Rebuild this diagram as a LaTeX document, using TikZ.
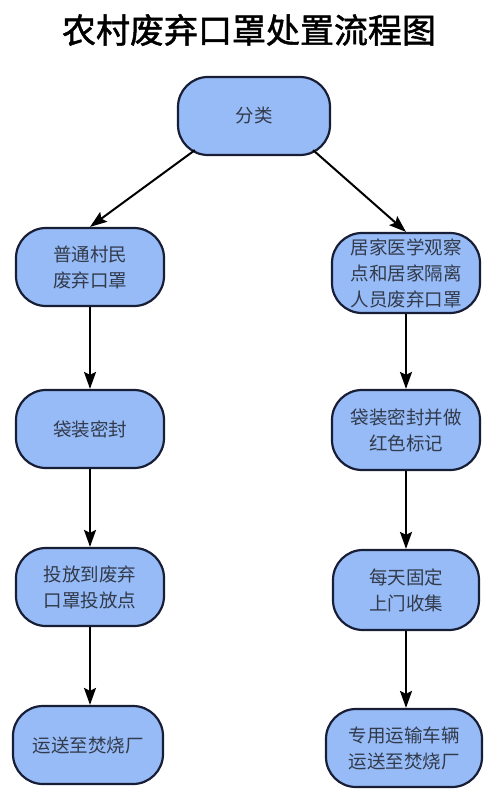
\documentclass[tikz,border=0pt]{standalone}
\usepackage{fontspec}
\newfontfamily\cjk{Noto Sans CJK SC}
\newfontfamily\cjktitle[FakeBold=1.5]{Noto Sans CJK SC}
\usetikzlibrary{arrows.meta}
\definecolor{boxfill}{RGB}{150,187,246}
\definecolor{boxline}{RGB}{25,30,55}
\definecolor{boxtext}{RGB}{50,58,75}
\tikzset{
  box/.style={draw=boxline,line width=2.2pt,fill=boxfill,rounded corners=30pt,
    minimum width=148pt,minimum height=78pt,align=center,text=boxtext,
    font=\cjk\fontsize{18.5pt}{26pt}\selectfont},
  flow/.style={draw,line width=2pt,-{Stealth[length=17pt,width=12pt,inset=3pt]}}
}
\begin{document}
\begin{tikzpicture}[x=1pt,y=-1pt]
\useasboundingbox (0,0) rectangle (501,793);

\node[font=\cjktitle\fontsize{34pt}{36pt}\selectfont] (title) at (249,30) {农村废弃口罩处置流程图};

\node[box,minimum width=152pt] (sort) at (254,116) {分类};

% left column
\node[box] (l1) at (90,267) {普通村民\\废弃口罩};
\node[box] (l2) at (90,429) {袋装密封};
\node[box] (l3) at (90,587) {投放到废弃\\口罩投放点};
\node[box,minimum width=150pt] (l4) at (88,745) {运送至焚烧厂};

% right column
\node[box,minimum height=80pt] (r1) at (406,273) {居家医学观察\\点和居家隔离\\人员废弃口罩};
\node[box,minimum height=80pt] (r2) at (406,430) {袋装密封并做\\红色标记};
\node[box,minimum height=80pt,minimum width=146pt] (r3) at (406,590) {每天固定\\上门收集};
\node[box,minimum width=156pt] (r4) at (404,748) {专用运输车辆\\运送至焚烧厂};

\path[flow] (sort.south west)++(18,-6) -- (l1.north);
\path[flow] (sort.south east)++(-18,-6) -- (r1.north);
\path[flow] (l1) -- (l2);
\path[flow] (l2) -- (l3);
\path[flow] (l3.south) -- (l3.south|-l4.north);
\path[flow] (r1) -- (r2);
\path[flow] (r2) -- (r3);
\path[flow] (r3.south) -- (r3.south|-r4.north);
\end{tikzpicture}
\end{document}
